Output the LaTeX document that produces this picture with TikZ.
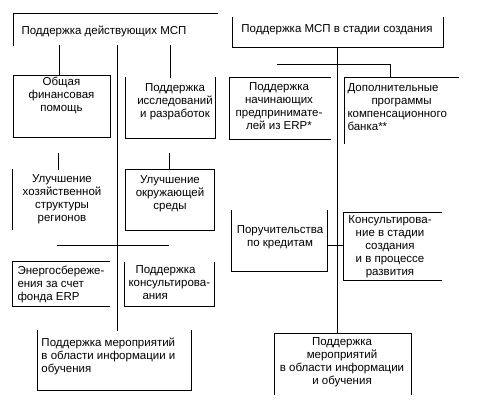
\documentclass[tikz,border=0pt]{standalone}
\usepackage{fontspec}
\setmainfont{Liberation Sans}
\begin{document}
\begin{tikzpicture}[x=1pt,y=-1pt,
  every path/.style={line width=1pt,line cap=rect},
  boxn/.style={draw=none,rectangle,inner sep=0pt,outer sep=0pt},
  txt/.style={inner sep=0pt,font=\fontsize{11.5}{13}\selectfont},
  txtc/.style={txt,align=center},
  txtl/.style={txt,align=left,anchor=west}]
\useasboundingbox[fill=white] (0,0) rectangle (488,416);
\newcommand{\mkbox}[5]{\node[boxn,minimum width={(#4-#2)*1pt},minimum height={(#5-#3)*1pt}] (#1) at ({(#2+#4)/2},{(#3+#5)/2}) {};}
% boxes
\mkbox{A}{13}{13}{217}{45}
\mkbox{B}{232}{17}{443}{47}
\mkbox{C}{13}{75}{110}{137}
\mkbox{D}{125}{77}{215}{138}
\mkbox{E}{229}{77}{330}{139}
\mkbox{F}{344}{77}{458}{143}
\mkbox{G}{12}{169}{110}{229}
\mkbox{H}{125}{169}{214}{230}
\mkbox{I}{12}{261}{109}{306}
\mkbox{J}{124}{262}{214}{306}
\mkbox{K}{231}{210}{327}{271}
\mkbox{L}{343}{212}{441}{280}
\mkbox{M}{37}{330}{191}{390}
\mkbox{N}{274}{333}{411}{394}
% visible edges
\draw (A.south west) -- (A.north west) -- (A.north east);
\draw (B.north west) -- (B.south west) -- (B.south east) -- (B.north east);
\draw (C.north west) rectangle (C.south east);
\draw (D.north west) -- (D.south west) -- (D.south east) -- (D.north east);
\draw (E.north east) -- (E.north west) -- (E.south west) -- (E.south east);
\draw (F.north east) -- (F.north west) -- (F.south west);
\draw (G.north west) -- (G.south west);
\draw (H.north west) rectangle (H.south east);
\draw (I.north east) -- (I.north west) -- (I.south west) -- (I.south east);
\draw (J.north west) -- (J.south west) -- (J.south east) -- (J.north east);
\draw (K.north west) -- (K.south west) -- (K.south east) -- (K.north east);
\draw (L.north east) -- (L.north west) -- (L.south west) -- (L.south east);
\draw (M.north west) -- (M.south west) -- (M.south east) -- (M.north east);
\draw (N.south west) -- (N.north west) -- (N.north east) -- (N.south east);
% helper coordinates
\coordinate (xa) at (59,0);
\coordinate (xb) at (117,0);
\coordinate (xc) at (170,0);
\coordinate (xd) at (337,0);
\coordinate (xe) at (277,0);
\coordinate (xf) at (390,0);
\coordinate (xg) at (58,153);
\coordinate (xh) at (169,153);
\coordinate (ha) at (57,245);
\coordinate (hb) at (168,245);
\coordinate (hr) at (0,64);
% connectors
\draw (xa |- A.south) -- (xa |- C.north);
\draw (xb |- A.south) -- (xb |- M.north);
\draw (xc |- A.south) -- (xc |- D.north);
\draw (xd |- B.south) -- (xd |- N.north);
\draw (xe |- hr) -- (xf |- hr) -- (xf |- F.north);
\draw (xg) -- (xg |- G.north);
\draw (xh) -- (xh |- H.north);
\draw (ha) -- (hb);
\draw (K.east) ++(0,4.5) coordinate (kc) (kc) -- (kc -| L.west);
% texts
\node[txtl] (tA) at (21,31) {Поддержка действующих МСП};
\node[txtc] (tB) at (337,30) {Поддержка МСП в стадии создания};
\node[txtc] (tC) at (61.5,95) {Общая\\финансовая\\помощь};
\node[txtc] (tD) at (175,102) {Поддержка\\исследований\\и разработок};
\node[txtc] (tE) at (279,106.5) {Поддержка\\начинающих\\предпринимате-\\лей из ERP*};
\node[txtl] (tF) at (347,107.5) {Дополнительные\\\hspace*{24pt}программы\\компенсационного\\банка**};
\node[txtc] (tG) at (62,199) {Улучшение\\хозяйственной\\структуры\\регионов};
\node[txtc] (tH) at (170,194) {Улучшение\\окружающей\\среды};
\node[txtl] (tI) at (17,284) {Энергосбереже-\\ения за счет\\фонда ERP};
\node[txtl] (tJ) at (128,283) {\hspace*{7pt}Поддержка\\консультирова-\\\hspace*{14pt}ания};
\node[txtc] (tK) at (280,237.5) {Поручительства\\по кредитам};
\node[txtc] (tL) at (390,247) {Консультирова-\\ние в стадии\\создания\\и в процессе\\развития};
\node[txtl] (tM) at (41,356) {Поддержка мероприятий\\в области информации и\\обучения};
\node[txtc] (tN) at (342,362) {Поддержка\\мероприятий\\в области информации\\и обучения};
\end{tikzpicture}
\end{document}
